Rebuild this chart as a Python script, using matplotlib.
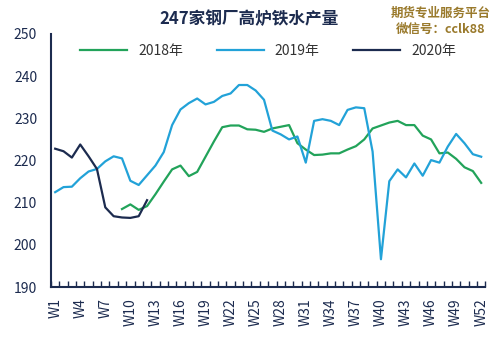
# -*- coding: utf-8 -*-
import matplotlib.pyplot as plt
import numpy as np

plt.rcParams['font.family'] = ['Noto Sans CJK SC', 'DejaVu Sans']

weeks = ['W%d' % i for i in range(1, 53)]

# 2018年 从 W9 开始
y2018 = [208.5, 209.6, 208.3, 209.2, 212.0, 215.0, 217.9, 218.8, 216.3, 217.3,
         220.9, 224.5, 227.9, 228.3, 228.3, 227.4, 227.3, 226.8, 227.6, 228.0,
         228.4, 224.1, 222.6, 221.3, 221.4, 221.7, 221.7, 222.6, 223.4, 225.0,
         227.6, 228.3, 229.0, 229.4, 228.4, 228.4, 225.9, 225.0, 221.7, 221.9,
         220.4, 218.4, 217.5, 214.7]
start2018 = 8

y2019 = [212.5, 213.7, 213.8, 215.8, 217.4, 218.0, 219.8, 221.0, 220.5, 215.2,
         214.2, 216.5, 218.8, 222.0, 228.4, 232.1, 233.6, 234.7, 233.3, 233.9,
         235.3, 235.9, 237.9, 237.9, 236.6, 234.4, 227.1, 226.2, 225.0, 225.7,
         219.5, 229.4, 229.8, 229.4, 228.4, 232.0, 232.6, 232.4, 222.1, 196.6,
         215.1, 217.9, 216.0, 219.3, 216.4, 220.1, 219.5, 223.3, 226.3, 224.1,
         221.5, 220.9]

y2020 = [222.8, 222.2, 220.7, 223.8, 221.0, 218.0, 208.9, 206.8, 206.5, 206.4,
         206.8, 210.6]

navy = '#1c2b4f'

fig = plt.figure(figsize=(4.97, 3.43), dpi=100)
ax = fig.add_axes([0.1026, 0.163, 0.874, 0.738])

x = np.arange(len(weeks))
ax.plot(x[start2018:start2018 + len(y2018)], y2018, color='#22a35a', linewidth=1.6, label='2018年')
ax.plot(x, y2019, color='#22a2d8', linewidth=1.6, label='2019年')
ax.plot(x[:len(y2020)], y2020, color=navy, linewidth=1.6, label='2020年')

ax.set_xlim(-0.5, len(weeks) - 0.5)
ax.set_ylim(190, 250)
ax.set_yticks(np.arange(190, 251, 10))

ax.set_xticks(x[::3])
ax.set_xticklabels(weeks[::3], rotation=90)
ax.set_xticks(np.arange(-0.5, len(weeks), 1), minor=True)
ax.tick_params(axis='x', which='major', length=0, pad=8, labelsize=10, labelcolor=navy)
ax.tick_params(axis='x', which='minor', length=4, width=1, color=navy, direction='in')
ax.tick_params(axis='y', length=0, pad=10, labelsize=10, labelcolor=navy)

ax.spines['top'].set_visible(False)
ax.spines['right'].set_visible(False)
ax.spines['left'].set_color(navy)
ax.spines['bottom'].set_color(navy)
ax.spines['left'].set_linewidth(1.5)
ax.spines['bottom'].set_linewidth(1.5)

ax.legend(loc='upper center', bbox_to_anchor=(0.5, 1.01), ncol=3, frameon=False,
          fontsize=10, handlelength=3.4, columnspacing=2.4, labelcolor='#333333')

fig.text(0.5, 0.945, '247家钢厂高炉铁水产量', ha='center', va='center',
         fontsize=12, fontweight='bold', color=navy)
fig.text(0.887, 0.962, '期货专业服务平台', ha='center', va='center',
         fontsize=9, fontweight='bold', color='#9a7a2c')
fig.text(0.887, 0.915, '微信号：cclk88', ha='center', va='center',
         fontsize=9, fontweight='bold', color='#9a7a2c')

plt.savefig('out.png', dpi=100)
